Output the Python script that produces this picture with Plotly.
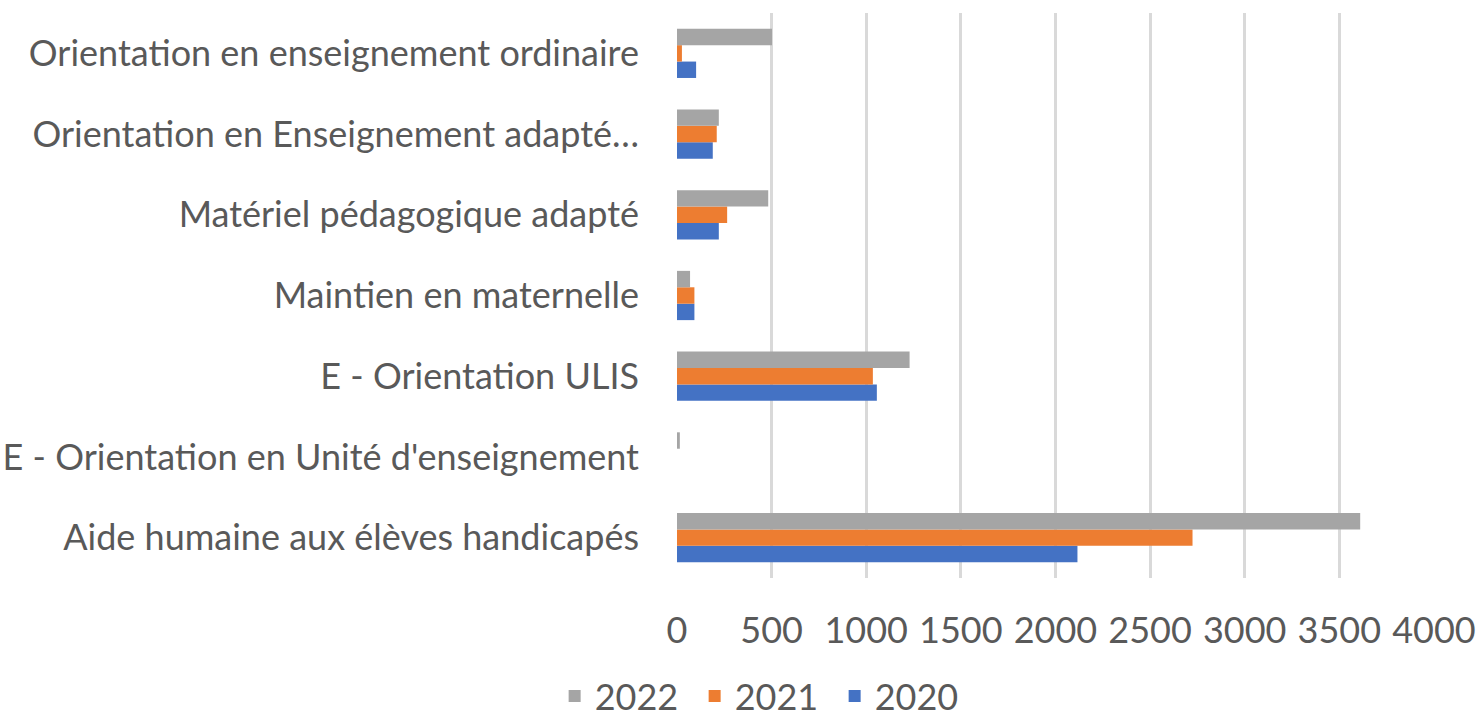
import plotly.graph_objects as go

categories = [
    "Aide humaine aux élèves handicapés",
    "E - Orientation en Unité d'enseignement",
    "E - Orientation ULIS",
    "Maintien en maternelle",
    "Matériel pédagogique adapté",
    "Orientation en Enseignement adapté…",
    "Orientation en enseignement ordinaire",
]
values_2020 = [2116, 0, 1056, 92, 221, 189, 101]
values_2021 = [2724, 0, 1035, 92, 265, 210, 26]
values_2022 = [3610, 15, 1229, 69, 482, 221, 502]
tick_vals = [0, 500, 1000, 1500, 2000, 2500, 3000, 3500, 4000]

series = [("2020", values_2020, "#4472C4"),
          ("2021", values_2021, "#ED7D31"),
          ("2022", values_2022, "#A5A5A5")]

fig = go.Figure()
for name, vals, color in series:
    fig.add_trace(go.Bar(y=categories, x=vals, name=name, orientation="h",
                         marker=dict(color=color, line=dict(width=0))))

font_family = "Lato, 'Open Sans', sans-serif"
fs = 36
fig.update_layout(
    width=1479, height=726,
    paper_bgcolor="white", plot_bgcolor="white",
    margin=dict(l=677, r=45, t=13, b=148, pad=0, autoexpand=False),
    barmode="group", bargap=0.39, bargroupgap=0,
    font=dict(family=font_family, size=fs, color="#595959"),
    showlegend=True,
    legend=dict(orientation="h", traceorder="reversed",
                xref="container", yref="container",
                x=0.517, xanchor="center", y=0.0, yanchor="bottom",
                font=dict(size=fs, color="#595959"),
                entrywidth=95, entrywidthmode="pixels",
                itemwidth=30, tracegroupgap=0),
    xaxis=dict(range=[0, 4000], tickvals=tick_vals, automargin=False,
               showgrid=True, gridcolor="#D9D9D9", gridwidth=2.5,
               zeroline=False, showline=False,
               ticklabelstandoff=28,
               tickfont=dict(size=fs, color="#595959")),
    yaxis=dict(type="category", categoryorder="array", categoryarray=categories,
               automargin=False,
               showgrid=False, zeroline=False, showline=False,
               ticklabelstandoff=37,
               tickfont=dict(size=fs, color="#595959")),
)
fig.write_html("out.html", config={"displayModeBar": False},
               post_script="document.body.style.margin='0';document.body.style.overflow='hidden';")
